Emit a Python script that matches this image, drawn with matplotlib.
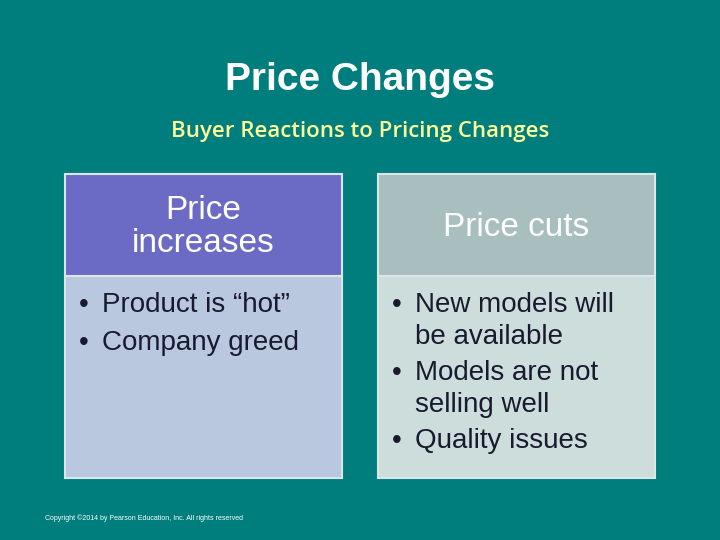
import matplotlib
matplotlib.use("Agg")
from matplotlib import pyplot as plt
from matplotlib.patches import Rectangle

# Slide content
title = "Price Changes"
subtitle = "Buyer Reactions to Pricing Changes"
headers = ["Price\nincreases", "Price cuts"]
bullets = [
    [["Product is \u201chot\u201d"], ["Company greed"]],
    [["New models will", "be available"], ["Models are not", "selling well"], ["Quality issues"]],
]
header_colors = ["#6B6BC6", "#A9BFBF"]
body_colors = ["#B9C7DF", "#CCDDDC"]
copyright = "Copyright \u00a92014 by Pearson Education, Inc. All rights reserved"

fig = plt.figure(figsize=(7.2, 5.4), dpi=100)
fig.patch.set_facecolor("#007E7E")
ax = fig.add_axes([0, 0, 1, 1])
ax.set_xlim(0, 720)
ax.set_ylim(540, 0)
ax.axis("off")

ax.text(360, 80, title, color="white", fontsize=28, fontweight="bold",
        ha="center", va="center", family="Liberation Sans")
ax.text(360, 131, subtitle, color="#FFFF99", fontsize=16, fontweight="semibold",
        ha="center", va="center", family="Open Sans")

lefts = [65, 378]
for i in range(2):
    x = lefts[i]
    ax.add_patch(Rectangle((x, 276), 277, 202, facecolor=body_colors[i],
                           edgecolor="#DDE6E6", linewidth=1.5))
    ax.add_patch(Rectangle((x, 174), 277, 102, facecolor=header_colors[i],
                           edgecolor="#DDE6E6", linewidth=1.5))
    ax.text(x + 138, 227, headers[i], color="white", fontsize=24,
            ha="center", va="center", linespacing=1.1, family="Liberation Sans")
    y = 305
    gap = 38 if i == 0 else 36
    for b in bullets[i]:
        ax.text(x + 14, y, "\u2022", color="#1A1A2E", fontsize=20,
                ha="left", va="center", family="Liberation Sans")
        for k, line in enumerate(b):
            ax.text(x + 37, y + 32 * k, line, color="#1A1A2E", fontsize=20,
                    ha="left", va="center", family="Liberation Sans")
        y += 32 * (len(b) - 1) + gap

ax.text(45, 518, copyright, color="white", fontsize=5, ha="left", va="center",
        family="Liberation Sans")

fig.savefig("out.png", dpi=100, facecolor=fig.get_facecolor())
